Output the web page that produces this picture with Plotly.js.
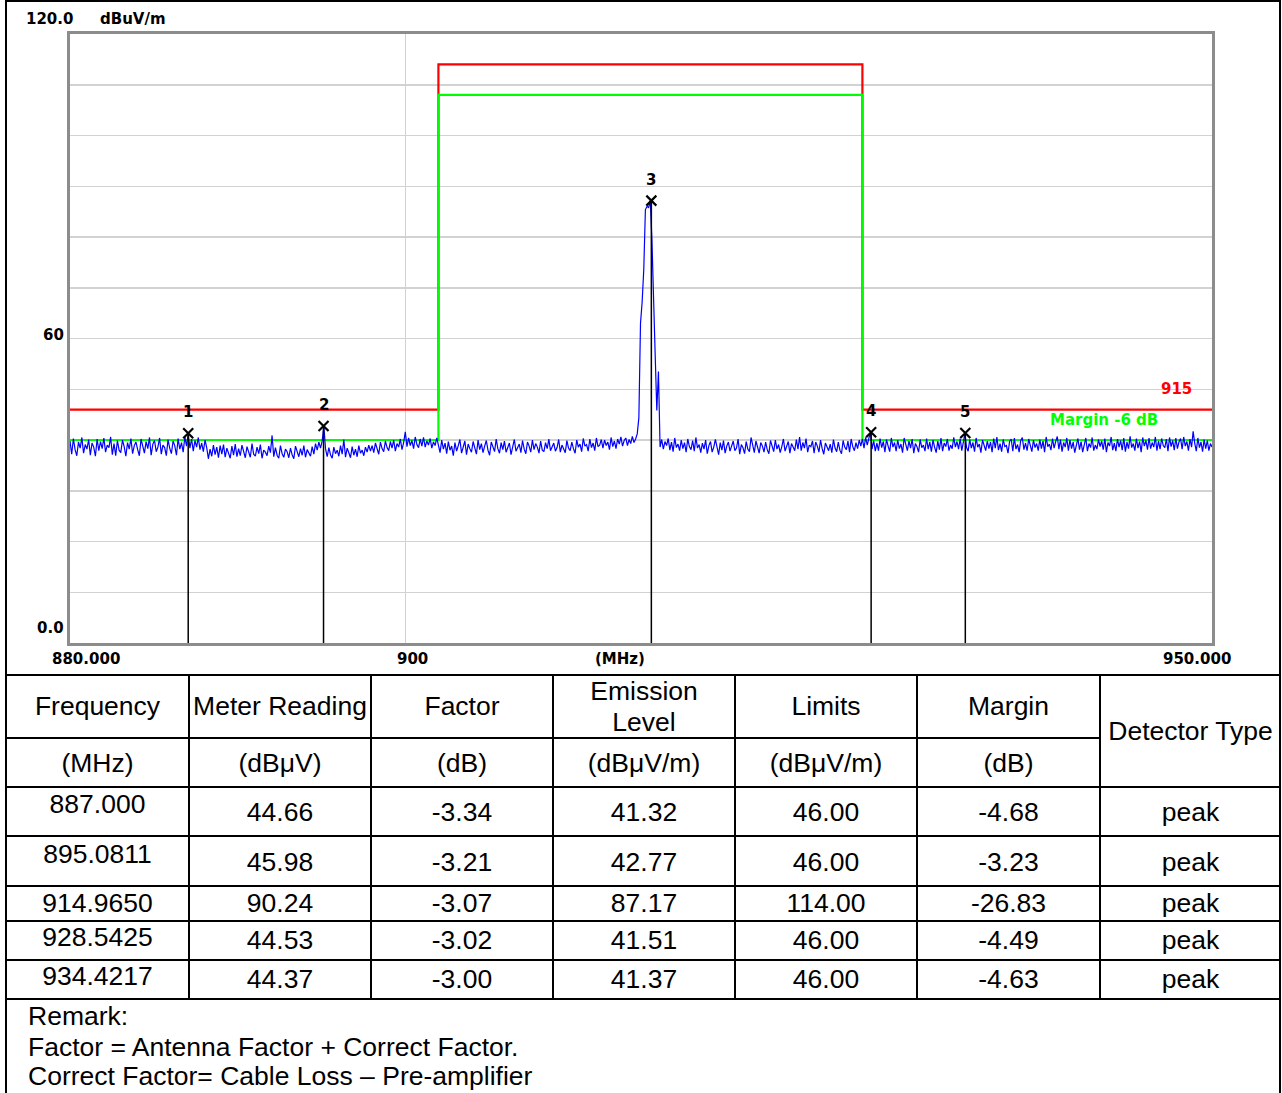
<!DOCTYPE html>
<html>
<head>
<meta charset="utf-8">
<script src="https://cdn.plot.ly/plotly-3.0.1.min.js"></script>
<style>
html,body{margin:0;padding:0;background:#fff;overflow:hidden;}
#page{position:relative;width:1282px;height:1093px;overflow:hidden;background:#fff;}
#chart{position:absolute;left:0;top:0;width:1282px;height:676px;}
.ln{position:absolute;background:#000;}
.tx{position:absolute;white-space:nowrap;font-family:'Liberation Sans',Arial,sans-serif;font-size:26.5px;line-height:1;color:#000;transform:translate(-50%,-50%);text-align:center;}
</style>
</head>
<body>
<div id="page"><div id="chart"></div></div>
<script>
// ---------------- DATA ----------------
const sweepStart = 880.0;   // MHz
const sweepStep = 0.1;      // MHz
// peak-detector trace, dBuV/m, one value per sweep point 880.0 ... 950.0
const traceLevel = [
39.8,37.2,40.3,38.1,36.9,39.6,38.4,40.5,37.4,39.1,
38.2,40.1,37.0,39.4,38.6,36.8,40.2,37.9,39.7,38.3,
40.4,37.6,39.0,38.5,40.6,37.1,39.3,36.9,39.9,38.0,
37.5,40.0,38.7,36.8,39.5,38.2,40.3,37.3,38.9,39.6,
38.1,36.9,40.2,38.8,37.4,39.7,38.3,40.5,37.0,39.2,
39.9,37.7,38.6,40.4,37.2,39.0,38.5,36.9,40.1,38.4,
37.3,39.8,38.9,37.0,40.3,38.2,39.5,37.6,40.6,38.8,
41.32,38.4,40.2,37.8,39.9,38.6,40.5,38.1,39.4,37.7,
40.0,38.5,36.3,38.2,36.8,39.0,37.1,38.6,36.5,38.9,
37.2,39.1,36.6,38.4,37.5,36.4,38.8,37.0,39.2,36.7,
38.3,36.9,39.0,37.4,36.5,38.7,37.8,36.6,39.3,37.2,
36.8,38.6,37.3,39.1,36.4,38.0,37.6,36.9,38.8,37.5,
40.9,36.7,38.5,37.0,36.4,38.9,37.3,36.6,38.2,37.7,
36.5,38.4,37.1,36.3,38.8,37.6,36.7,38.3,37.0,38.9,
36.6,38.1,37.4,36.8,38.7,37.2,39.3,38.0,39.6,38.4,
39.8,42.77,38.3,36.7,38.5,37.1,36.4,38.6,37.3,38.0,
36.8,38.9,37.2,40.1,36.6,38.4,37.5,36.5,38.7,37.0,
38.2,36.7,38.9,37.4,38.0,36.9,38.6,37.6,39.0,37.8,
38.9,37.5,39.4,38.1,37.2,39.6,38.3,37.7,39.8,38.5,
37.9,39.7,38.4,40.0,37.8,39.3,38.6,40.2,38.1,39.5,
41.6,38.7,40.4,38.9,39.9,38.3,40.6,39.1,38.5,40.2,
38.8,40.5,38.6,39.8,39.0,40.3,38.4,39.6,38.9,40.4,
38.6,37.5,40.0,38.2,39.4,37.3,39.7,38.0,38.8,36.9,
39.5,37.8,38.9,40.1,37.4,38.6,39.8,37.1,39.2,38.3,
37.6,39.7,38.4,37.2,40.0,38.1,39.3,37.5,38.8,39.9,
38.0,37.0,39.6,38.5,37.7,40.2,38.3,37.4,39.5,38.1,
39.8,37.6,38.7,39.4,37.1,38.9,40.1,37.8,38.4,39.2,
37.5,39.9,38.2,37.3,39.6,38.8,37.6,40.0,38.1,39.3,
38.6,37.4,39.8,38.0,37.7,39.5,38.3,40.2,37.9,38.7,
39.4,37.8,38.5,40.1,37.6,39.0,38.2,37.5,39.9,38.4,
37.9,39.6,38.3,37.4,40.0,38.6,39.2,37.7,40.3,38.8,
39.1,37.8,40.2,38.5,39.4,37.9,40.4,38.7,39.0,40.1,
38.4,40.0,38.9,39.6,38.1,40.5,38.7,39.8,38.3,40.2,
39.2,40.6,38.8,39.9,40.4,38.9,40.1,39.3,40.7,39.5,
40.2,41.2,44.4,63.0,67.2,73.6,85.4,86.0,85.8,87.17,
79.5,65.0,56.8,45.8,53.5,38.6,40.1,38.2,39.7,38.9,
40.3,38.0,39.6,37.7,40.4,38.5,39.2,37.9,40.0,38.3,
39.5,37.6,40.2,38.7,38.1,39.9,37.8,40.5,38.4,39.1,
37.5,39.4,38.2,40.0,37.3,38.9,39.7,37.6,38.6,40.1,
38.3,37.1,39.5,38.0,39.9,37.4,38.8,39.6,37.8,38.9,
39.8,37.9,38.4,40.2,37.2,39.1,38.5,37.3,39.7,38.2,
37.7,40.5,38.6,37.5,39.8,38.3,37.4,39.5,38.8,37.6,
39.6,38.1,37.3,39.9,38.5,37.7,40.0,38.2,39.1,37.5,
38.7,40.2,37.8,38.9,39.7,37.4,39.3,38.6,37.9,40.1,
38.2,40.6,37.9,39.5,38.4,40.3,37.6,39.0,38.7,39.8,
37.4,39.6,38.8,37.6,40.0,38.3,37.2,39.4,38.5,37.9,
39.2,37.5,40.1,38.4,37.7,39.6,38.0,37.3,39.9,38.6,
38.1,39.8,37.6,40.2,38.7,37.9,39.5,38.3,40.0,38.8,
40.2,38.4,40.5,39.0,40.3,41.51,38.2,39.9,37.8,39.4,
37.9,40.3,38.5,39.7,37.6,40.1,38.8,37.7,40.4,38.6,
39.5,37.8,40.0,38.3,39.2,37.5,40.4,38.9,37.9,39.8,
38.4,40.2,37.4,39.3,38.7,37.6,40.1,38.5,39.0,37.8,
40.3,38.2,39.6,37.7,40.0,38.6,37.5,39.8,38.1,40.4,
37.8,39.4,38.7,40.2,37.9,39.0,38.3,40.5,38.6,39.7,
38.2,40.3,37.9,39.6,41.37,38.5,37.8,40.1,38.4,39.5,
37.7,40.4,38.6,39.2,37.5,40.0,38.8,37.9,39.8,38.3,
39.6,37.6,40.3,38.4,40.6,38.0,39.3,37.7,40.1,38.7,
38.9,37.4,39.7,40.2,37.8,40.4,38.2,39.1,37.6,39.9,
40.5,38.1,39.4,37.9,40.2,38.6,37.7,40.0,38.5,39.3,
37.9,40.1,38.3,39.8,37.6,40.6,38.7,39.2,38.0,40.3,
38.4,39.7,40.7,38.2,40.1,37.7,39.5,38.6,40.4,37.9,
40.0,38.3,39.6,37.5,38.9,40.3,38.1,39.7,37.6,39.2,
40.4,37.8,39.3,38.5,40.5,37.9,39.0,38.2,40.1,38.7,
39.8,38.1,40.3,37.6,39.5,38.8,40.6,38.0,39.4,37.8,
40.2,38.6,39.9,38.0,40.4,37.7,39.6,38.3,40.7,38.5,
39.3,37.9,40.3,38.4,39.7,37.6,40.5,38.8,39.9,38.1,
40.4,38.3,39.5,38.6,40.6,37.9,39.8,38.2,40.3,38.9,
38.5,40.2,37.8,40.5,38.7,39.9,38.0,40.4,38.3,39.6,
40.3,38.2,40.6,38.8,39.7,37.9,40.2,38.6,41.7,39.4,
37.8,40.4,38.5,39.6,37.7,40.1,38.3,39.9,37.9,39.3,
38.6
];

// limit (red) and margin line (green)
const limitFreq   = [880, 902, 902, 928, 928, 950];
const limitLevel  = [46, 46, 114, 114, 46, 46];
const marginFreq  = [880, 902, 902, 928, 928, 950];
const marginLevel = [40, 40, 108, 108, 40, 40];

// marker table
const markerNo      = ['1', '2', '3', '4', '5'];
const freqText      = ['887.000', '895.0811', '914.9650', '928.5425', '934.4217'];
const meterText     = ['44.66', '45.98', '90.24', '44.53', '44.37'];
const factorText    = ['-3.34', '-3.21', '-3.07', '-3.02', '-3.00'];
const emissionText  = ['41.32', '42.77', '87.17', '41.51', '41.37'];
const limitText     = ['46.00', '46.00', '114.00', '46.00', '46.00'];
const marginText    = ['-4.68', '-3.23', '-26.83', '-4.49', '-4.63'];
const detectorText  = ['peak', 'peak', 'peak', 'peak', 'peak'];

const headerTop    = ['Frequency', 'Meter Reading', 'Factor', 'Emission<br>Level', 'Limits', 'Margin'];
const headerUnits  = ['(MHz)', '(dBμV)', '(dB)', '(dBμV/m)', '(dBμV/m)', '(dB)'];
const detectorHead = 'Detector Type';
const remarkLines  = ['Remark:', 'Factor = Antenna Factor + Correct Factor.', 'Correct Factor= Cable Loss – Pre-amplifier'];

const yTickText = ['120.0', '60', '0.0'];
const yUnitText = 'dBuV/m';
const xTickText = ['880.000', '900', '(MHz)', '950.000'];
const limitName = '915';
const marginName = 'Margin -6 dB';

// ---------------- CHART ----------------
const traceFreq = traceLevel.map((v, i) => +(sweepStart + i * sweepStep).toFixed(1));
const markerFreq = freqText.map(parseFloat);
const markerLevel = emissionText.map(parseFloat);

const W = 1282, H = 676, ML = 70, MR = 70, MT = 34, MB = 33;
const pw = W - ML - MR, ph = H - MT - MB;
const px = x => (x - ML) / pw;
const py = y => (H - MB - y) / ph;

const stemX = [], stemY = [];
markerFreq.forEach((f, i) => { stemX.push(f, f, null); stemY.push(0, markerLevel[i], null); });

const traces = [
  {x: limitFreq, y: limitLevel, mode: 'lines', line: {color: '#ff0000', width: 2.2}, hoverinfo: 'skip'},
  {x: marginFreq, y: marginLevel, mode: 'lines', line: {color: '#00ff00', width: 2.2}, hoverinfo: 'skip'},
  {x: traceFreq, y: traceLevel, mode: 'lines', line: {color: '#0000ff', width: 1.2}, hoverinfo: 'skip'},
  {x: stemX, y: stemY, mode: 'lines', line: {color: '#000000', width: 1.5}, hoverinfo: 'skip', connectgaps: false},
  {x: markerFreq, y: markerLevel, mode: 'markers', cliponaxis: false,
   marker: {symbol: 'x-thin', size: 10, color: '#000', line: {color: '#000', width: 2.2}}, hoverinfo: 'skip'}
];

const lblFont = {family: 'DejaVu Sans', size: 15, color: '#000'};
function paperAnn(text, x, y, xanchor, color) {
  return {text: '<b>' + text + '</b>', xref: 'paper', yref: 'paper', x: px(x), y: py(y),
          xanchor: xanchor, yanchor: 'middle', showarrow: false, borderpad: 0,
          font: Object.assign({}, lblFont, color ? {color: color} : {})};
}
const annotations = [
  paperAnn(yTickText[0], 25, 19, 'left'),
  paperAnn(yUnitText, 99, 19, 'left'),
  paperAnn(yTickText[1], 65, 335, 'right'),
  paperAnn(yTickText[2], 65, 628, 'right'),
  paperAnn(xTickText[0], 51, 659, 'left'),
  paperAnn(xTickText[1], 396, 659, 'left'),
  paperAnn(xTickText[2], 594, 659, 'left'),
  paperAnn(xTickText[3], 1162, 659, 'left'),
  paperAnn(limitName, 1193, 389, 'right', '#ff0000'),
  paperAnn(marginName, 1049, 420, 'left', '#00ff00')
];
markerNo.forEach((n, i) => {
  annotations.push({text: '<b>' + n + '</b>', x: Math.log10(markerFreq[i]), y: markerLevel[i],
    xref: 'x', yref: 'y', yshift: 21, showarrow: false, borderpad: 0,
    xanchor: 'center', yanchor: 'middle', font: lblFont});
});

const layout = {
  width: W, height: H,
  margin: {l: ML, r: MR, t: MT, b: MB, pad: 0},
  paper_bgcolor: '#ffffff', plot_bgcolor: '#ffffff',
  showlegend: false,
  xaxis: {type: 'log', range: [Math.log10(880), Math.log10(950)], tickvals: [900],
          showticklabels: false, ticks: '', showgrid: true, gridcolor: '#d2d2d2', gridwidth: 1.5,
          showline: true, mirror: true, linecolor: '#8c8c8c', linewidth: 3, zeroline: false, fixedrange: true},
  yaxis: {range: [0, 120], tick0: 0, dtick: 10, showticklabels: false, ticks: '',
          showgrid: true, gridcolor: '#d2d2d2', gridwidth: 1.5,
          showline: true, mirror: true, linecolor: '#8c8c8c', linewidth: 3, zeroline: false, fixedrange: true},
  annotations: annotations
};

Plotly.newPlot('chart', traces, layout, {displayModeBar: false, staticPlot: true});

// ---------------- TABLE ----------------
const page = document.getElementById('page');
function line(x, y, w, h) {
  const d = document.createElement('div'); d.className = 'ln';
  d.style.left = x + 'px'; d.style.top = y + 'px'; d.style.width = w + 'px'; d.style.height = h + 'px';
  page.appendChild(d);
}
function text(t, cx, cy, left) {
  const d = document.createElement('div'); d.className = 'tx'; d.innerHTML = t;
  d.style.left = cx + 'px'; d.style.top = cy + 'px';
  if (left) { d.style.transform = 'translate(0,-50%)'; d.style.textAlign = 'left'; }
  page.appendChild(d);
}
const colEdges = [6, 189, 371, 553, 735, 917, 1100, 1281];
const rowEdges = [675, 738, 787, 836, 886, 921, 960, 999];
const colC = colEdges.slice(0, -1).map((x, i) => (x + colEdges[i + 1]) / 2);

// outer frame
line(5, 0, 2, 1093);
line(1279, 0, 2, 1093);
line(5, 0, 1276, 2);
// horizontal table rules
rowEdges.forEach((y, i) => {
  if (i === 1) line(6, y - 1, colEdges[6] - 6, 2);
  else line(6, y - 1, 1275, 2);
});
// vertical table rules
colEdges.slice(1, -1).forEach(x => line(x - 1, rowEdges[0], 2, rowEdges[rowEdges.length - 1] - rowEdges[0] + 1));

// header
headerTop.forEach((t, i) => {
  if (t.indexOf('<br>') >= 0) {
    const parts = t.split('<br>');
    text(parts[0], colC[i], 691); text(parts[1], colC[i], 722);
  } else text(t, colC[i], 706);
});
headerUnits.forEach((t, i) => text(t, colC[i], 763));
text(detectorHead, colC[6], 731);

// body rows
const rowFreqY = [804, 854, 903, 937, 976];
const rowValY  = [812, 862, 903, 940, 979];
const cols = [meterText, factorText, emissionText, limitText, marginText, detectorText];
freqText.forEach((f, r) => {
  text(f, colC[0], rowFreqY[r]);
  cols.forEach((arr, c) => text(arr[r], colC[c + 1], rowValY[r]));
});

// remarks
const remarkY = [1016, 1047, 1076];
remarkLines.forEach((t, i) => text(t, 28, remarkY[i], true));
</script>
</body>
</html>
